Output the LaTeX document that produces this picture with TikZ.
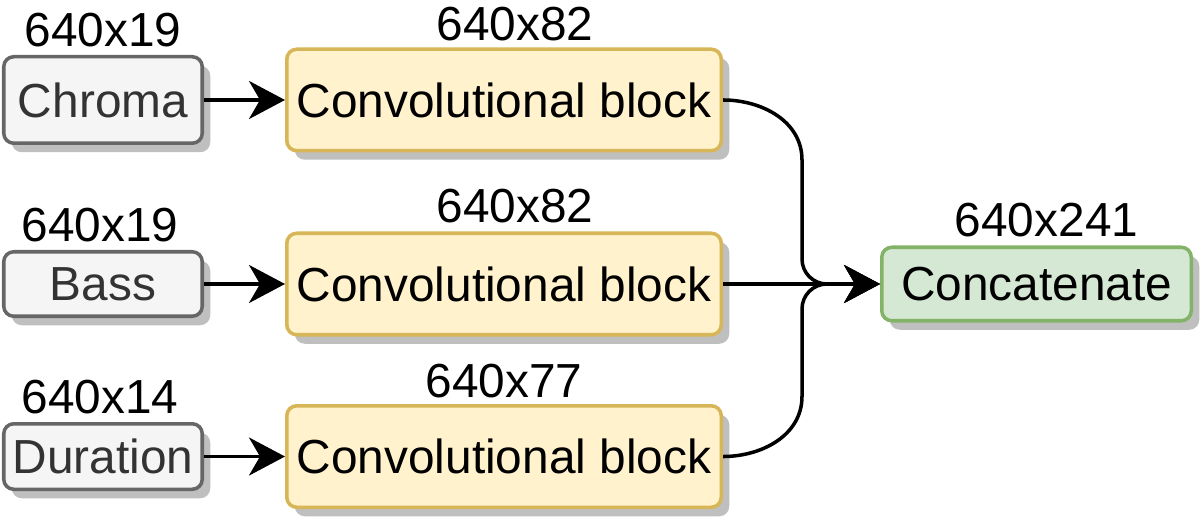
\documentclass[tikz,border=0pt]{standalone}
\usepackage{fontspec}
\setmainfont{Liberation Sans}
\usetikzlibrary{positioning,shadows,arrows.meta}
\definecolor{inputfill}{HTML}{F5F5F5}
\definecolor{inputline}{HTML}{666666}
\definecolor{inputtext}{HTML}{333333}
\definecolor{convfill}{HTML}{FFF2CC}
\definecolor{convline}{HTML}{D6B656}
\definecolor{catfill}{HTML}{D5E8D4}
\definecolor{catline}{HTML}{82B366}
\definecolor{shadowgray}{HTML}{BFBFBF}
\begin{document}
\begin{tikzpicture}[node distance=2.1cm, >={Stealth[length=0.72cm,width=0.76cm,inset=0.22cm]},
        every node/.style={font=\fontsize{27.2}{32}\selectfont},
        box/.style={draw, rounded corners=0.2cm, line width=2pt, inner sep=2pt,
            drop shadow={shadow xshift=0.16cm, shadow yshift=-0.18cm, fill=shadowgray, opacity=1}},
        inbox/.style={box, fill=inputfill, draw=inputline, text=inputtext, minimum width=3.97cm},
        convbox/.style={box, fill=convfill, draw=convline, minimum width=8.69cm, minimum height=2.03cm},
        catbox/.style={box, fill=catfill, draw=catline, minimum width=6.19cm, minimum height=1.47cm},
        sizelbl/.style={inner sep=0.333em},
        flow/.style={->, line width=2pt}]
        \useasboundingbox (0,0) rectangle (24.04,10.46);

        % 输入特征
        \node[inbox, minimum height=1.73cm] (chroma) at (2.06,8.46) {Chroma};
        \node[inbox, minimum height=1.29cm, below=of chroma] (bass) {Bass};
        \node[inbox, minimum height=1.31cm, below=2.08cm of bass] (duration) {Duration};

        % 卷积块
        \node[convbox, right=1.62cm of chroma] (conv1) {Convolutional block};
        \node[convbox, right=1.62cm of bass] (conv2) {Convolutional block};
        \node[convbox, right=1.62cm of duration] (conv3) {Convolutional block};

        % 拼接
        \node[catbox, right=3.14cm of conv2] (concat) {Concatenate};

        % 尺寸
        \node[sizelbl, above=0.04cm of chroma] (chromasize) {640x19};
        \node[sizelbl, above=0.04cm of bass, xshift=-0.06cm] (basssize) {640x19};
        \node[sizelbl, above=0.04cm of duration, xshift=-0.06cm] (durationsize) {640x14};
        \node[sizelbl, above=0pt of conv1, xshift=0.22cm] (conv1size) {640x82};
        \node[sizelbl, above=0.04cm of conv2, xshift=0.22cm] (conv2size) {640x82};
        \node[sizelbl, above=0pt of conv3] (conv3size) {640x77};
        \node[sizelbl, above=0.04cm of concat, xshift=0.2cm] (concatsize) {640x241};

        % 汇合点
        \coordinate (jx) at (16.54,0);
        \coordinate (jin) at (jx |- concat.west);
        \coordinate (jtop) at (16.04,7.26);
        \coordinate (jtopend) at (16.04,5.28);
        \coordinate (jbot) at (16.04,2.53);
        \coordinate (jbotend) at (16.04,4.28);

        % 连线
        \draw[flow] (chroma) -- (conv1);
        \draw[flow] (bass) -- (conv2);
        \draw[flow] (duration) -- (conv3);
        \draw[flow] (conv1.east) to[out=0,in=90] (jtop) -- (jtopend) to[out=-90,in=180] (jin) -- (concat.west);
        \draw[flow] (conv2) -- (concat);
        \draw[flow] (conv3.east) to[out=0,in=-90] (jbot) -- (jbotend) to[out=90,in=180] (jin) -- (concat.west);
    \end{tikzpicture}
\end{document}
